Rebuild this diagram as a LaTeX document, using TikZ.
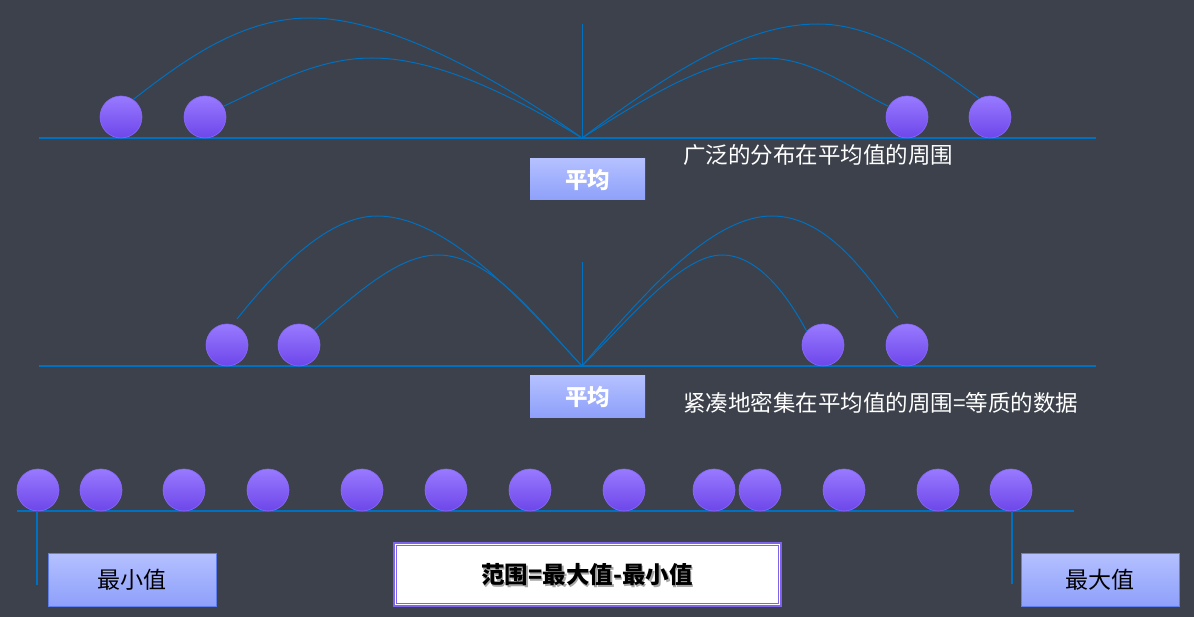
\documentclass[tikz,border=0pt]{standalone}
\usepackage{fontspec}
\newfontfamily\cjk{Noto Sans CJK SC}
\definecolor{bgc}{RGB}{61,65,75}
\definecolor{lineblue}{RGB}{0,112,192}
\definecolor{balltop}{RGB}{152,122,255}
\definecolor{ballbot}{RGB}{110,70,234}
\definecolor{ballrim}{RGB}{135,105,250}
\definecolor{boxtop}{RGB}{180,192,255}
\definecolor{boxbot}{RGB}{142,160,250}
\definecolor{boxrim}{RGB}{95,125,235}
\definecolor{rangerim}{RGB}{125,100,235}
\tikzset{
  ball/.style={circle,minimum size=42pt,inner sep=0pt,top color=balltop,bottom color=ballbot,draw=ballrim,line width=0.6pt},
  base/.style={draw=lineblue,line width=1.4pt},
  arcline/.style={draw=lineblue,line width=1pt},
  meanbox/.style={rectangle,minimum width=115pt,minimum height=41pt,inner sep=0pt,top color=boxtop,bottom color=boxbot,text=white,font=\cjk\bfseries\fontsize{22.5}{26}\selectfont},
  labbox/.style={rectangle,inner sep=0pt,top color=boxtop,bottom color=boxbot,draw=boxrim,line width=0.8pt,text=black,font=\cjk\fontsize{23}{26}\selectfont},
  desc/.style={anchor=west,inner sep=0pt,text=white,font=\cjk\fontsize{22.5}{26}\selectfont},
  rangefont/.style={font=\cjk\bfseries\fontsize{23.5}{27}\selectfont}
}
\begin{document}
\begin{tikzpicture}[x=1pt,y=-1pt]
\fill[bgc] (0,0) rectangle (1194,617);
\useasboundingbox (0,0) rectangle (1194,617);

% ---------- top row ----------
\coordinate (t0) at (39,138);
\coordinate (t1) at (1096,138);
\coordinate (tm) at (582,138);
\coordinate (tv) at (582,24);
\draw[base] (t0) -- (t1);
\draw[arcline] (tm) -- (tv);
\node[ball] (a1) at (121,117) {};
\node[ball] (a2) at (205,117) {};
\node[ball] (a3) at (907,117) {};
\node[ball] (a4) at (990,117) {};
\draw[arcline] (a1.55) .. controls (190,55) and (245,18) .. (310,18) .. controls (390,18) and (500,80) .. (tm);
\draw[arcline] (a2.30) .. controls (275,82) and (320,58) .. (372,58) .. controls (440,58) and (520,100) .. (tm);
\draw[arcline] (tm) .. controls (660,80) and (740,24) .. (818,24) .. controls (880,24) and (940,70) .. (a4.120);
\draw[arcline] (tm) .. controls (650,95) and (710,58) .. (765,58) .. controls (812,58) and (850,88) .. (a3.150);
\node[meanbox] (mean1) at (587.5,179.5) {平均};
\node[desc] (d1) at (683,155) {广泛的分布在平均值的周围};

% ---------- middle row ----------
\coordinate (u0) at (39,366);
\coordinate (u1) at (1096,366);
\coordinate (um) at (582,366);
\coordinate (uv) at (582,262);
\draw[base] (u0) -- (u1);
\draw[arcline] (um) -- (uv);
\node[ball] (c1) at (227,345) {};
\node[ball] (c2) at (299,345) {};
\node[ball] (c3) at (823,345) {};
\node[ball] (c4) at (907,345) {};
\draw[arcline] (237,319) .. controls (280,265) and (330,216) .. (377,216) .. controls (450,216) and (530,310) .. (um);
\draw[arcline] (c2.45) .. controls (360,290) and (400,255) .. (438,255) .. controls (492,255) and (540,322) .. (um);
\draw[arcline] (um) .. controls (640,298) and (710,216) .. (772,216) .. controls (830,216) and (872,282) .. (898,318);
\draw[arcline] (um) .. controls (630,318) and (682,255) .. (722,255) .. controls (760,255) and (790,300) .. (c3.140);
\node[meanbox] (mean2) at (587.5,396.5) {平均};
\node[desc] (d2) at (683,403) {紧凑地密集在平均值的周围=等质的数据};

% ---------- bottom row ----------
\coordinate (w0) at (17,511);
\coordinate (w1) at (1074,511);
\draw[base] (w0) -- (w1);
\foreach \i/\xx in {1/38,2/101,3/184,4/268,5/362,6/446,7/530,8/624,9/714,10/760,11/844,12/938,13/1011}
  \node[ball] (e\i) at (\xx,490) {};
\coordinate (minend) at (37,585);
\coordinate (maxend) at (1012,584);
\coordinate (minstart) at (37,511);
\coordinate (maxstart) at (1012,511);
\draw[base] (minstart) -- (minend);
\draw[base] (maxstart) -- (maxend);
\node[labbox,minimum width=168pt,minimum height=53pt] (minbox) at (132,579.5) {最小值};
\node[labbox,minimum width=158pt,minimum height=53pt] (maxbox) at (1100,579.5) {最大值};
\node[rectangle,fill=white,draw=rangerim,line width=2pt,minimum width=387pt,minimum height=63pt,inner sep=0pt] (range) at (587,574) {};
\draw[rangerim,line width=0.8pt] ([shift={(3.5pt,-3.5pt)}]range.north west) rectangle ([shift={(-3.5pt,3.5pt)}]range.south east);
\node[text=black!35,rangefont] (rangeshadow) at (588.5,577) {范围=最大值-最小值};
\node[text=black,rangefont] (rangetext) at (587,575) {范围=最大值-最小值};
\end{tikzpicture}
\end{document}
